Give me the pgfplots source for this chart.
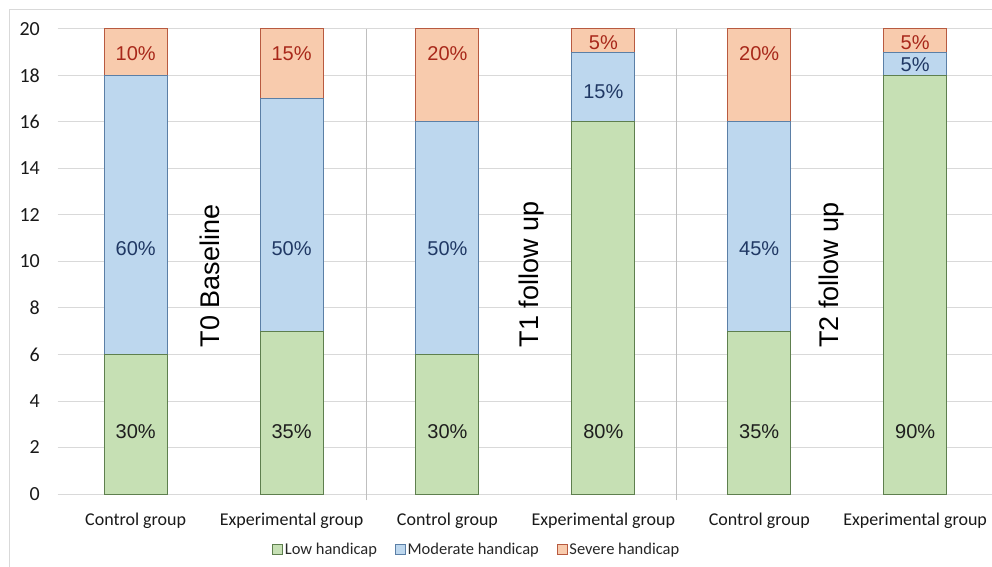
\documentclass[border=0pt]{standalone}
\usepackage{pgfplots}
\pgfplotsset{compat=1.18}
\usepackage{fontspec}
\setmainfont{Carlito}
\newfontfamily\arial{Liberation Sans}
\definecolor{lowfill}{HTML}{C6E0B4}
\definecolor{lowedge}{HTML}{5E7F4E}
\definecolor{modfill}{HTML}{BDD7EE}
\definecolor{modedge}{HTML}{5B7FA6}
\definecolor{sevfill}{HTML}{F8CBAD}
\definecolor{sevedge}{HTML}{B85A40}
\definecolor{lowtext}{HTML}{1E1E1E}
\definecolor{modtext}{HTML}{203864}
\definecolor{sevtext}{HTML}{A8281A}
\definecolor{gridgray}{HTML}{D9D9D9}
\definecolor{sepgray}{HTML}{BFBFBF}
\tikzset{
  lab/.style={font=\arial\fontsize{20bp}{24bp}\selectfont},
  grp/.style={font=\arial\fontsize{27bp}{30bp}\selectfont, rotate=90, text=black},
}
\begin{document}
\begin{tikzpicture}
\useasboundingbox (-57.7bp,-73bp) rectangle (934.3bp,494bp);
\draw[gridgray, line width=1bp] (-47.7bp,-90bp) -- (-47.7bp,484bp) -- (960bp,484bp);
\begin{axis}[
  at={(0,0)}, anchor=south west,
  scale only axis, width=935.4bp, height=465bp,
  ybar stacked, bar width=63bp,
  xmin=-0.5, xmax=5.5, ymin=0, ymax=20,
  clip=false,
  xtick={0,...,5},
  xticklabels={Control group, Experimental group, Control group, Experimental group, Control group, Experimental group},
  ytick={0,2,...,20},
  ymajorgrids, grid style={draw=gridgray, line width=1bp},
  axis line style={draw=none},
  major tick length=0pt,
  /pgf/number format/assume math mode=true,
  xticklabel style={font=\fontsize{18bp}{21bp}\selectfont, anchor=base, inner sep=0pt, yshift=-31bp, text=black!90},
  yticklabel style={font=\fontsize{20bp}{24bp}\selectfont, anchor=east, inner sep=0pt, xshift=-17.7bp, text=black!90},
  legend style={at={(0.448,-0.12)}, anchor=center, draw=none, fill=none,
    legend columns=3, font=\fontsize{16.5bp}{19bp}\selectfont, text=black!85,
    /tikz/every even column/.append style={column sep=16bp}},
  legend image code/.code={\draw[#1, line width=0.6bp] (0bp,-5bp) rectangle (10bp,5bp);},
  after end axis/.code={
    \draw[sepgray, line width=1bp] (axis cs:1.48,-0.27) -- (axis cs:1.48,20);
    \draw[sepgray, line width=1bp] (axis cs:3.47,-0.27) -- (axis cs:3.47,20);
    \node[lab, text=lowtext] at (axis cs:0,2.68) {30\%};
    \node[lab, text=lowtext] at (axis cs:1,2.68) {35\%};
    \node[lab, text=lowtext] at (axis cs:2,2.68) {30\%};
    \node[lab, text=lowtext] at (axis cs:3,2.68) {80\%};
    \node[lab, text=lowtext] at (axis cs:4,2.68) {35\%};
    \node[lab, text=lowtext] at (axis cs:5,2.68) {90\%};
    \node[lab, text=modtext] at (axis cs:0,10.56) {60\%};
    \node[lab, text=modtext] at (axis cs:1,10.56) {50\%};
    \node[lab, text=modtext] at (axis cs:2,10.56) {50\%};
    \node[lab, text=modtext] at (axis cs:3,17.3) {15\%};
    \node[lab, text=modtext] at (axis cs:4,10.56) {45\%};
    \node[lab, text=modtext] at (axis cs:5,18.45) {5\%};
    \node[lab, text=sevtext] at (axis cs:0,18.95) {10\%};
    \node[lab, text=sevtext] at (axis cs:1,18.95) {15\%};
    \node[lab, text=sevtext] at (axis cs:2,18.95) {20\%};
    \node[lab, text=sevtext] at (axis cs:3,19.42) {5\%};
    \node[lab, text=sevtext] at (axis cs:4,18.95) {20\%};
    \node[lab, text=sevtext] at (axis cs:5,19.42) {5\%};
    \node[grp] at (axis cs:0.477,9.38) {T0 Baseline};
    \node[grp] at (axis cs:2.54,9.44) {T1 follow up};
    \node[grp] at (axis cs:4.466,9.42) {T2 follow up};
  },
]
\addplot[fill=lowfill, draw=lowedge, line width=1bp] coordinates {(0,6) (1,7) (2,6) (3,16) (4,7) (5,18)};
\addplot[fill=modfill, draw=modedge, line width=1bp] coordinates {(0,12) (1,10) (2,10) (3,3) (4,9) (5,1)};
\addplot[fill=sevfill, draw=sevedge, line width=1bp] coordinates {(0,2) (1,3) (2,4) (3,1) (4,4) (5,1)};
\legend{Low handicap, Moderate handicap, Severe handicap}
\end{axis}
\end{tikzpicture}
\end{document}
